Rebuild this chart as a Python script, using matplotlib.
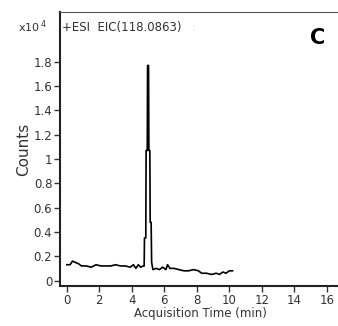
import matplotlib
matplotlib.use("Agg")
import matplotlib.pyplot as plt

# Data (counts in units of 1e4)
time_min = [0.0, 0.2, 0.35, 0.5, 0.7, 0.9, 1.2, 1.5, 1.8, 2.1, 2.4, 2.7, 3.0, 3.3, 3.6,
            3.9, 4.1, 4.25, 4.4, 4.55, 4.7, 4.76, 4.78, 4.86, 4.88, 4.95, 4.97, 5.03,
            5.05, 5.11, 5.13, 5.19, 5.22, 5.3, 5.5, 5.7, 5.9, 6.1, 6.2, 6.35, 6.6, 6.9,
            7.2, 7.5, 7.8, 8.1, 8.3, 8.6, 8.9, 9.2, 9.4, 9.6, 9.8, 10.0, 10.2]
counts = [0.13, 0.13, 0.16, 0.15, 0.14, 0.12, 0.12, 0.11, 0.13, 0.12, 0.12, 0.12, 0.13,
          0.12, 0.12, 0.11, 0.13, 0.10, 0.13, 0.11, 0.12, 0.12, 0.35, 0.35, 1.07, 1.07,
          1.77, 1.77, 1.07, 1.07, 0.48, 0.48, 0.15, 0.09, 0.10, 0.09, 0.11, 0.09, 0.13,
          0.10, 0.10, 0.09, 0.08, 0.08, 0.09, 0.08, 0.06, 0.06, 0.05, 0.06, 0.05, 0.07,
          0.06, 0.08, 0.08]
x_ticks = [0, 2, 4, 6, 8, 10, 12, 14, 16]
y_ticks = [0, 0.2, 0.4, 0.6, 0.8, 1.0, 1.2, 1.4, 1.6, 1.8]
y_labels = ["0", "0.2", "0.4", "0.6", "0.8", "1", "1.2", "1.4", "1.6", "1.8"]

plt.rcParams['font.family'] = ['DejaVu Sans']
fig = plt.figure(figsize=(3.38, 3.26), dpi=100)
ax = fig.add_axes([60/338, 1 - 286/326, (338 - 60)/338 + 0.01, (286 - 12)/326])

ax.plot(time_min, counts, color="black", lw=1.2)
ax.set_xlim(-0.42, 16.9)
ax.set_ylim(-0.045, 2.21)
ax.set_xticks(x_ticks)
ax.set_xticklabels([str(t) for t in x_ticks], fontsize=8.5, color="#333333")
ax.set_yticks(y_ticks)
ax.set_yticklabels(y_labels, fontsize=8.5, color="#333333")
ax.tick_params(direction="out", length=4, width=1, colors="#333333", pad=1.5)

for s in ["left", "bottom"]:
    ax.spines[s].set_linewidth(1.5)
    ax.spines[s].set_color("#222222")
ax.spines["top"].set_linewidth(0.8)
ax.spines["top"].set_color("#555555")
ax.spines["right"].set_visible(False)

ax.set_xlabel("Acquisition Time (min)", fontsize=8.5, color="#333333", labelpad=0)
ax.set_ylabel("Counts", fontsize=11, color="#333333", labelpad=2)

fig.text(18/338, 1 - 27/326, r"x10$^{\,4}$", fontsize=8, color="#333333", va="center")
ax.text(0.008, 0.945, "+ESI  EIC(118.0863)", transform=ax.transAxes, fontsize=8.5,
        color="#333333", va="center", ha="left")
ax.text(0.47, 0.945, ":", transform=ax.transAxes, fontsize=8, color="#cccccc", va="center")
fig.text(318/338, 1 - 38/326, "C", fontsize=15, fontweight="bold", color="black",
         ha="center", va="center")

fig.savefig("out.png", dpi=100)
